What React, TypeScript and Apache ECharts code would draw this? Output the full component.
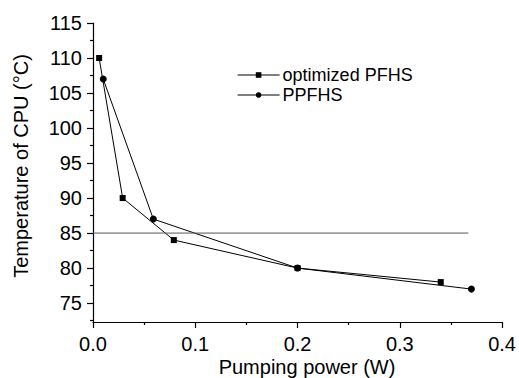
import React, { useEffect, useRef } from "react";
import * as echarts from "echarts";

const optimizedPFHS: [number, number][] = [
  [0.006, 110],
  [0.029, 90],
  [0.079, 84],
  [0.2, 80],
  [0.34, 78],
];
const ppfhs: [number, number][] = [
  [0.01, 107],
  [0.059, 87],
  [0.2, 80],
  [0.37, 77],
];
const thresholdLine: [number, number][] = [
  [0, 85],
  [0.367, 85],
];
const yMajorTicks = [75, 80, 85, 90, 95, 100, 105, 110, 115];
const yMinorTicks = [72.5, 77.5, 82.5, 87.5, 92.5, 97.5, 102.5, 107.5, 112.5];

const FONT = "Liberation Sans, Arial, sans-serif";

export default function App() {
  const ref = useRef<HTMLDivElement>(null);
  useEffect(() => {
    if (!ref.current) return;
    const chart = echarts.init(ref.current, undefined, { renderer: "svg" });
    chart.setOption({
      animation: false,
      backgroundColor: "#fff",
      textStyle: { fontFamily: FONT },
      grid: { left: 93, right: 16, top: 23, bottom: 56, containLabel: false },
      legend: {
        data: ["optimized PFHS", "PPFHS"],
        orient: "vertical",
        left: 232,
        top: 61,
        itemWidth: 42,
        itemHeight: 7,
        itemGap: 2,
        lineStyle: { width: 1.2, color: "#000" },
        textStyle: { fontFamily: FONT, fontSize: 18, color: "#000", padding: [0, 0, 0, -2] },
      },
      xAxis: {
        type: "value",
        min: 0,
        max: 0.4,
        interval: 0.1,
        axisLine: { show: true, lineStyle: { color: "#000", width: 1.2 } },
        axisTick: { show: true, length: 6, lineStyle: { color: "#000", width: 1.2 } },
        minorTick: { show: true, splitNumber: 2, length: 3, lineStyle: { color: "#000", width: 1.2 } },
        axisLabel: {
          fontSize: 20,
          color: "#000",
          margin: 12,
          formatter: (v: number) => v.toFixed(1),
        },
        splitLine: { show: false },
      },
      yAxis: [
        {
          type: "value",
          position: "left",
          min: 72.3,
          max: 115,
          axisLine: { show: true, lineStyle: { color: "#000", width: 1.2 } },
          axisTick: { show: true, length: 6, customValues: yMajorTicks, lineStyle: { color: "#000", width: 1.2 } },
          axisLabel: { fontSize: 20, color: "#000", margin: 11, customValues: yMajorTicks },
          splitLine: { show: false },
        },
        {
          type: "value",
          position: "left",
          min: 72.3,
          max: 115,
          axisLine: { show: false },
          axisTick: { show: true, length: 3, customValues: yMinorTicks, lineStyle: { color: "#000", width: 1.2 } },
          axisLabel: { show: false },
          splitLine: { show: false },
        },
      ],
      graphic: [
        {
          type: "text",
          x: 307,
          y: 367,
          style: {
            text: "Pumping power (W)",
            fontSize: 20,
            fontFamily: FONT,
            fill: "#000",
            textAlign: "center",
            textVerticalAlign: "middle",
          },
        },
        {
          type: "text",
          x: 21,
          y: 166,
          rotation: Math.PI / 2,
          style: {
            text: "Temperature of CPU (°C)",
            fontSize: 20,
            fontFamily: FONT,
            fill: "#000",
            textAlign: "center",
            textVerticalAlign: "middle",
          },
        },
      ],
      series: [
        {
          name: "optimized PFHS",
          type: "line",
          data: optimizedPFHS,
          symbol: "rect",
          symbolSize: 6,
          lineStyle: { color: "#000", width: 1 },
          itemStyle: { color: "#000" },
        },
        {
          name: "PPFHS",
          type: "line",
          data: ppfhs,
          symbol: "circle",
          symbolSize: 7,
          lineStyle: { color: "#000", width: 1 },
          itemStyle: { color: "#000" },
        },
        {
          name: "threshold",
          type: "line",
          data: thresholdLine,
          symbol: "none",
          lineStyle: { color: "#555", width: 1 },
          silent: true,
        },
      ],
    });
    return () => chart.dispose();
  }, []);
  return <div ref={ref} style={{ width: 519, height: 378, position: "absolute", left: 0, top: 0 }} />;
}
